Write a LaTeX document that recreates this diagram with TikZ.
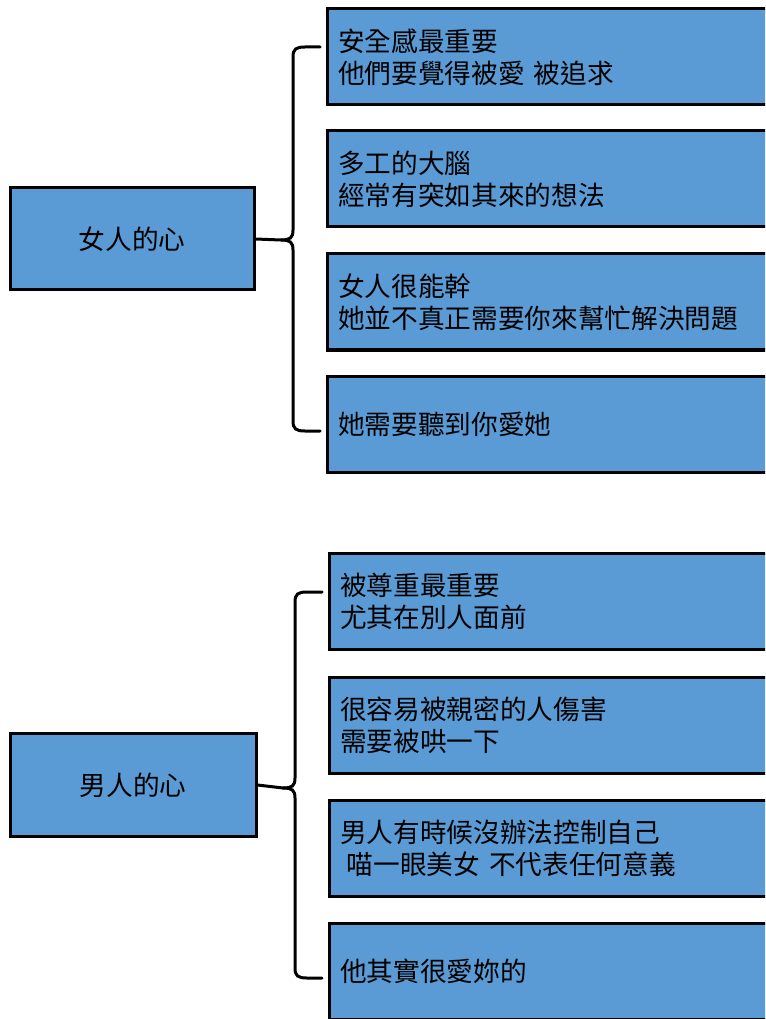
\documentclass[tikz,border=0pt]{standalone}
\usepackage{fontspec}
\setmainfont{Noto Sans CJK TC}
\definecolor{heartblue}{HTML}{5B9BD5}

\begin{document}
\begin{tikzpicture}[x=0.75pt, y=-0.75pt,
    heartbox/.style={rectangle, draw=black, line width=2.25pt, fill=heartblue,
        font=\fontsize{20pt}{24pt}\selectfont},
    notebox/.style={heartbox, anchor=west, minimum height=72pt,
        text width=380pt, inner xsep=8pt, align=left},
    brace/.style={draw=black, line width=2.25pt, line cap=round}]
                \useasboundingbox (0,0) rectangle (765,1019);
                \clip (0,0) rectangle (765,1019);

                % Woman's heart
                \node[heartbox, minimum width=183pt, minimum height=76.5pt] (woman) at (132,239)
                    {女人的心};

                \node[notebox] (w1) at (326,57) {安全感最重要\\他們要覺得被愛 被追求};
                \node[notebox] (w2) at (326,179) {多工的大腦\\經常有突如其來的想法};
                \node[notebox] (w3) at (326,302) {女人很能幹\\她並不真正需要你來幫忙解決問題};
                \node[notebox] (w4) at (326,424) {她需要聽到你愛她};

                \coordinate (wtop) at (320,47);
                \coordinate (wbot) at (320,431);
                \draw[brace] (woman.east) -- (281,240)
                    .. controls (290,240) and (293,238) .. (293,230) -- (293,57)
                    .. controls (293,49) and (296,47) .. (305,47) -- (wtop);
                \draw[brace] (281,240)
                    .. controls (290,240) and (293,242) .. (293,250) -- (293,421)
                    .. controls (293,429) and (296,431) .. (305,431) -- (wbot);

                % Man's heart
                \node[heartbox, minimum width=184.5pt, minimum height=77.25pt] (man) at (133,785)
                    {男人的心};

                \node[notebox] (m1) at (328,601) {被尊重最重要\\尤其在別人面前};
                \node[notebox] (m2) at (328,725) {很容易被親密的人傷害\\需要被哄一下};
                \node[notebox] (m3) at (328,848) {男人有時候沒辦法控制自己\\\hspace*{0.25em}喵一眼美女 不代表任何意義};
                \node[notebox] (m4) at (328,971) {他其實很愛妳的};

                \coordinate (mtop) at (322,592);
                \coordinate (mbot) at (322,978);
                \draw[brace] (man.east) -- (283,788)
                    .. controls (292,788) and (295,786) .. (295,778) -- (295,602)
                    .. controls (295,594) and (298,592) .. (307,592) -- (mtop);
                \draw[brace] (283,788)
                    .. controls (292,788) and (295,790) .. (295,798) -- (295,968)
                    .. controls (295,976) and (298,978) .. (307,978) -- (mbot);
            \end{tikzpicture}
\end{document}
